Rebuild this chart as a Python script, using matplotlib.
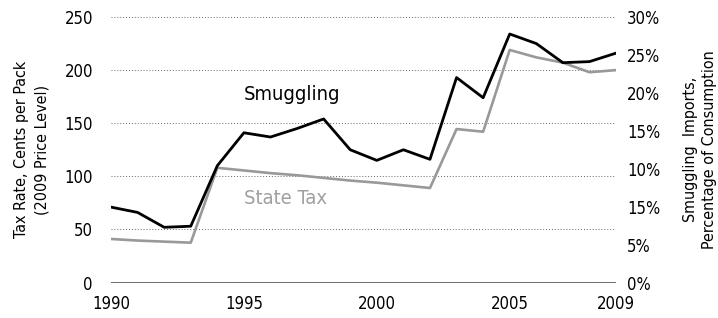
import matplotlib
matplotlib.use("Agg")
import matplotlib.pyplot as plt

plt.rcParams['font.family'] = ['DejaVu Sans']
plt.rcParams['font.stretch'] = 'condensed'

years = list(range(1990, 2010))
smuggling = [71, 66, 52, 53, 110, 141, 137, 145, 154, 125,
             115, 125, 116, 193, 174, 234, 225, 207, 208, 216]
state_tax = [41, 39.5, 38.5, 37.5, 108, 105.5, 103, 101, 98.5, 96,
             94, 91.5, 89, 144.5, 142, 219, 212, 207, 198, 200]

left_ticks = [0, 50, 100, 150, 200, 250]
right_tick_labels = ['0%', '5%', '15%', '10%', '15%', '20%', '25%', '30%']
x_ticks = [1990, 1995, 2000, 2005, 2009]

fig = plt.figure(figsize=(7.18, 3.18), dpi=100)
ax = fig.add_axes([0.1546, 0.1116, 0.858 - 0.1546, 0.9465 - 0.1116])

# dotted grid, solid base line
for y in left_ticks[1:]:
    ax.axhline(y, color='#666666', lw=0.7, ls=(0, (1, 2)), zorder=1)
ax.axhline(0, color='#555555', lw=1.2, zorder=1)

ax.plot(years, state_tax, color='#999999', lw=1.9, zorder=2)
ax.plot(years, smuggling, color='black', lw=2.0, zorder=3)

ax.set_xlim(1990, 2009)
ax.set_ylim(0, 250)
ax.set_xticks(x_ticks)
ax.set_yticks(left_ticks)
ax.tick_params(axis='both', length=0, labelsize=12)
ax.tick_params(axis='y', pad=13)
ax.tick_params(axis='x', pad=9)
for s in ax.spines.values():
    s.set_visible(False)
ax.set_ylabel('Tax Rate, Cents per Pack\n(2009 Price Level)', fontsize=11.5,
              linespacing=1.4, labelpad=11)

ax2 = ax.twinx()
ax2.set_ylim(0, 7)
ax2.set_yticks(range(len(right_tick_labels)))
ax2.set_yticklabels(right_tick_labels)
ax2.tick_params(axis='y', length=0, labelsize=12, pad=8)
for s in ax2.spines.values():
    s.set_visible(False)
ax2.set_ylabel('Smuggling  Imports,\nPercentage of Consumption', fontsize=11.5,
               linespacing=1.35, labelpad=16)

ax.text(1995.0, 177, 'Smuggling', fontsize=14.5, color='black', ha='left', va='center')
ax.text(1995.0, 79, 'State Tax', fontsize=14.5, color='#a0a0a0', ha='left', va='center')

fig.savefig('out.png', dpi=100)
